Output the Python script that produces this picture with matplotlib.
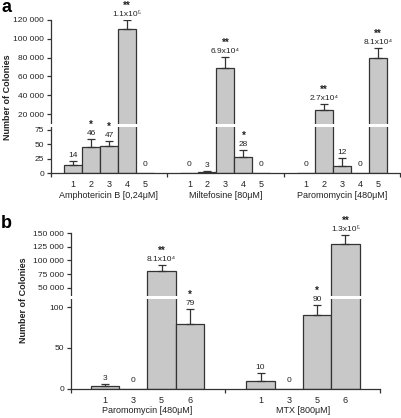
import matplotlib
matplotlib.use("Agg")
import matplotlib.pyplot as plt
from matplotlib.patches import Rectangle
from matplotlib.ticker import FuncFormatter

plt.rcParams['font.family'] = ['Liberation Sans', 'DejaVu Sans']

# ---------------- data ----------------
a_groups = ["Amphotericin B [0,24μM]", "Miltefosine [80μM]", "Paromomycin [480μM]"]
a_ticks = ["1", "2", "3", "4", "5"]
a_values = [[14, 46, 47, 110000, 0],
            [0, 3, 69000, 28, 0],
            [0, 24000, 12, 0, 80000]]
a_errors = [[8, 13.5, 9, 10000, 0],
            [0, 1, 12000, 12, 0],
            [0, 6500, 15, 0, 10000]]
a_labels = [["14", "46", "47", "1.1x10⁵", "0"],
            ["0", "3", "6.9x10⁴", "28", "0"],
            ["0", "2.7x10⁴", "12", "0", "8.1x10⁴"]]
a_stars = [["", "*", "*", "**", ""],
           ["", "", "**", "*", ""],
           ["", "**", "", "", "**"]]

b_groups = ["Paromomycin [480μM]", "MTX [800μM]"]
b_ticks = ["1", "3", "5", "6"]
b_values = [[3, 0, 81000, 79],
            [10, 0, 90, 131000]]
b_errors = [[2.5, 0, 10500, 19],
            [9, 0, 13, 16000]]
b_labels = [["3", "0", "8.1x10⁴", "79"],
            ["10", "0", "90", "1.3x10⁵"]]
b_stars = [["", "", "**", "*"],
           ["", "", "*", "**"]]

# ---------------- layout ----------------
W, H = 401, 418
fig = plt.figure(figsize=(W / 100, H / 100), dpi=100)

def px_axes(x0, y0, x1, y1):
    return fig.add_axes([x0 / W, 1 - y1 / H, (x1 - x0) / W, (y1 - y0) / H])

EDGE = "#333333"
FILL = "#c8c8c8"
TXT = "#222222"
FS = 6

def fmt_thousands(v, pos):
    return f"{int(round(v)):,}".replace(",", " ")

def draw_panel(groups, ticks, values, errors, labels, stars, group_gap,
               px_top, px_break, px_bottom, px_left, px_right,
               upper_lim, lower_lim, upper_ticks, lower_ticks, xlim, letter,
               ylab_xy, letter_y):
    ax_u = px_axes(px_left, px_top, px_right, px_break)
    ax_l = px_axes(px_left, px_break, px_right, px_bottom)
    lower_max = lower_lim[1]
    centers = []
    seps = []
    for g, (vals, errs, labs, sts) in enumerate(zip(values, errors, labels, stars)):
        xs = [g * group_gap + k for k in range(len(vals))]
        centers.append(xs)
        for ax in (ax_u, ax_l):
            ax.bar(xs, vals, width=1.0, color=FILL, edgecolor=EDGE, linewidth=0.9, zorder=1)
            ex = [x for x, e in zip(xs, errs) if e > 0]
            ev = [v for v, e in zip(vals, errs) if e > 0]
            ee = [e for e in errs if e > 0]
            ax.errorbar(ex, ev, yerr=[[0] * len(ee), ee], fmt='none', ecolor=EDGE,
                        elinewidth=0.9, capsize=2.8, capthick=0.9, zorder=2)
        for x, v, e, lab, st in zip(xs, vals, errs, labs, sts):
            top = v + e
            ax = ax_u if top > lower_max else ax_l
            off = 4.0 if e > 0 else 6.0
            ax.annotate(lab, xy=(x, top), xytext=(0, off), textcoords='offset points',
                        ha='center', va='center', fontsize=FS, color=TXT,
                        annotation_clip=False, zorder=6)
            if st:
                ax.annotate(st, xy=(x, top), xytext=(0, off + 6.0), textcoords='offset points',
                            ha='center', va='center', fontsize=FS + 1, color=TXT, fontweight='bold',
                            annotation_clip=False, zorder=6)
        if g > 0:
            seps.append((centers[g - 1][-1] + xs[0]) / 2)
        ax_l.annotate(groups[g], xy=((xs[0] + xs[-1]) / 2, 0), xycoords=('data', 'axes fraction'),
                      xytext=(0, -16), textcoords='offset points', ha='center', va='center',
                      fontsize=FS + 0.5, color=TXT, annotation_clip=False)

    for ax in (ax_u, ax_l):
        ax.set_xlim(*xlim)
        ax.spines['right'].set_visible(False)
        for s in ax.spines.values():
            s.set_color(EDGE)
            s.set_linewidth(0.9)
        ax.tick_params(axis='y', labelsize=FS, length=3, width=0.9, color=EDGE,
                       labelcolor=TXT, pad=2)
        ax.yaxis.set_major_formatter(FuncFormatter(fmt_thousands))
    ax_u.spines['top'].set_visible(False)
    ax_u.spines['bottom'].set_visible(False)
    ax_u.set_xticks([])
    ax_u.set_ylim(*upper_lim)
    ax_u.set_yticks(upper_ticks)
    ax_l.spines['top'].set_visible(False)
    ax_l.set_ylim(*lower_lim)
    ax_l.set_yticks(lower_ticks)

    allx = [x for xs in centers for x in xs]
    alltick = [t for _ in centers for t in ticks]
    ax_l.set_xticks(allx, alltick)
    ax_l.set_xticks([xlim[0]] + seps + [xlim[1]], minor=True)
    ax_l.tick_params(axis='x', which='major', length=0, labelsize=FS + 0.5, pad=5, labelcolor=TXT)
    ax_l.tick_params(axis='x', which='minor', length=3, width=0.9, color=EDGE, direction='out')

    # break band
    band = Rectangle(((px_left - 4) / W, 1 - (px_break + 1.5) / H), (px_right - px_left + 4) / W,
                     2.8 / H, transform=fig.transFigure, facecolor='white', edgecolor='none',
                     clip_on=False, zorder=4)
    ax_l.add_patch(band)

    fig.text(ylab_xy[0] / W, 1 - ylab_xy[1] / H, "Number of Colonies", rotation=90,
             ha='center', va='center', fontsize=FS + 0.5, fontweight='bold', color=TXT)
    fig.text(6 / W, 1 - letter_y / H, letter,
             ha='center', va='center', fontsize=13, fontweight='bold', color='black')

draw_panel(a_groups, a_ticks, a_values, a_errors, a_labels, a_stars, 6.47,
           px_top=19.5, px_break=125.3, px_bottom=173.3, px_left=51, px_right=400,
           upper_lim=(8000, 120500), lower_lim=(0, 83),
           upper_ticks=[20000, 40000, 60000, 80000, 100000, 120000],
           lower_ticks=[0, 25, 50, 75], xlim=(-1.22, 18.17), letter='a',
           ylab_xy=(8, 97), letter_y=8)

draw_panel(b_groups, b_ticks, b_values, b_errors, b_labels, b_stars, 5.5,
           px_top=232.7, px_break=297, px_bottom=388.7, px_left=71, px_right=380,
           upper_lim=(32900, 151000), lower_lim=(0, 112.6),
           upper_ticks=[50000, 75000, 100000, 125000, 150000],
           lower_ticks=[0, 50, 100], xlim=(-1.2, 9.72), letter='b',
           ylab_xy=(24, 300), letter_y=224)

fig.savefig("out.png", dpi=100)
